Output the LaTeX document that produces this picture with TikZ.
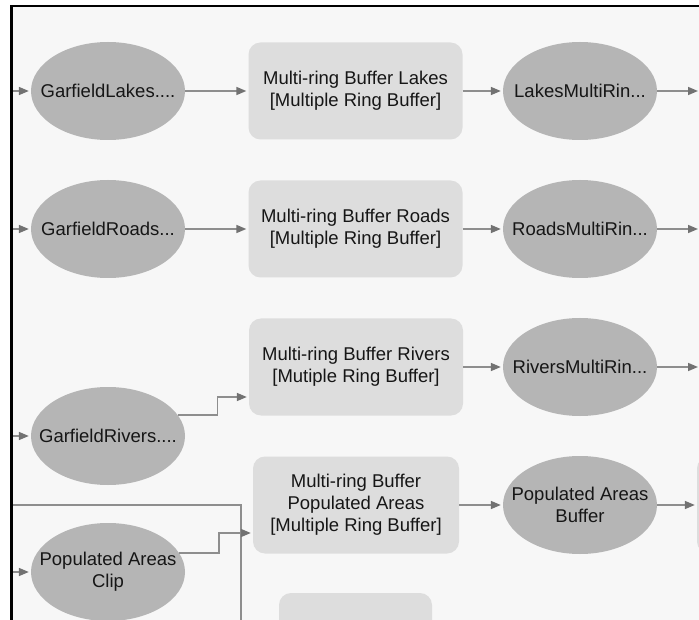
\documentclass[tikz,border=0pt]{standalone}
\usepackage{fontspec}
\setmainfont{Liberation Sans}
\usetikzlibrary{shapes.geometric,arrows.meta}
\definecolor{canvas}{HTML}{F7F7F7}
\definecolor{datafill}{HTML}{B5B5B5}
\definecolor{toolfill}{HTML}{DDDDDD}
\definecolor{linkgray}{HTML}{8E8E8E}
\definecolor{tipgray}{HTML}{727272}
\definecolor{ink}{HTML}{161616}
\begin{document}
\begin{tikzpicture}[x=1pt,y=-1pt,
  every node/.style={font=\fontsize{18.5}{22}\selectfont, text=ink, align=center, inner sep=0pt},
  dataset/.style={ellipse, fill=datafill, minimum width=154pt, minimum height=98pt, label={center:#1}},
  toolbox/.style={rounded corners=12pt, fill=toolfill, minimum width=214pt, minimum height=97pt},
  conn/.style={draw=linkgray, line width=1.6pt, -{Triangle[length=10pt,width=8pt,color=tipgray]}, shorten >=2pt},
  link/.style={draw=linkgray, line width=1.6pt}]
\useasboundingbox (0,0) rectangle (699,620);
\clip (0,0) rectangle (699,620);
\fill[white] (0,0) rectangle (699,620);
\fill[canvas] (11,6) rectangle (699,620);

% free ends of connectors that leave the visible canvas
\coordinate (inA) at (11,91);
\coordinate (inB) at (11,229);
\coordinate (inC) at (11,436);
\coordinate (inD) at (11,572);
\coordinate (outA) at (700,91);
\coordinate (outB) at (700,229);
\coordinate (outC) at (700,367);
\coordinate (feedL) at (11,505);
\coordinate (feedD) at (241,640);

% row 1: lakes
\node[dataset={GarfieldLakes....}] (glakes) at (108,91) {};
\node[toolbox] (bufLakes) at (355.5,91) {Multi-ring Buffer Lakes\\{[Multiple Ring Buffer]}};
\node[dataset={LakesMultiRin...}] (lakesOut) at (580,91) {};

% row 2: roads
\node[dataset={GarfieldRoads...}] (groads) at (108,229) {};
\node[toolbox] (bufRoads) at (355.5,229) {Multi-ring Buffer Roads\\{[Multiple Ring Buffer]}};
\node[dataset={RoadsMultiRin...}] (roadsOut) at (580,229) {};

% row 3: rivers
\node[dataset={GarfieldRivers....}] (grivers) at (108,436) {};
\node[toolbox] (bufRivers) at (356,367) {Multi-ring Buffer Rivers\\{[Mutiple Ring Buffer]}};
\node[dataset={RiversMultiRin...}] (riversOut) at (580,367) {};

% row 4: populated areas
\node[dataset={{Populated Areas\\Clip}}] (popClip) at (108,572) {};
\node[toolbox, minimum width=206pt] (bufPop) at (356,505) {Multi-ring Buffer\\Populated Areas\\{[Multiple Ring Buffer]}};
\node[dataset={{Populated Areas\\Buffer}}] (popOut) at (580,505) {};
\node[toolbox] (nextTool) at (804,505) {};
\node[toolbox, minimum width=153pt] (lowTool) at (355.5,641.5) {};

% connectors
\draw[conn] (inA) -- (glakes);
\draw[conn] (glakes) -- (bufLakes);
\draw[conn] (bufLakes) -- (lakesOut);
\draw[conn] (lakesOut) -- (outA);

\draw[conn] (inB) -- (groads);
\draw[conn] (groads) -- (bufRoads);
\draw[conn] (bufRoads) -- (roadsOut);
\draw[conn] (roadsOut) -- (outB);

\draw[conn] (inC) -- (grivers);
\draw[conn] (grivers.17) -- ++(40,0) |- ([yshift=-30pt]bufRivers.west);
\draw[conn] (bufRivers) -- (riversOut);
\draw[conn] (riversOut) -- (outC);

\draw[link] (feedL) -| (feedD);
\draw[conn] (inD) -- (popClip);
\draw[conn] (popClip.15) -- ++(40,0) |- ([yshift=-28pt]bufPop.west);
\draw[conn] (bufPop) -- (popOut);
\draw[conn] (popOut) -- (nextTool);

% frame
\draw[black, line width=2.6pt] (11.3,640) -- (11.3,6) -- (720,6);
\end{tikzpicture}
\end{document}
